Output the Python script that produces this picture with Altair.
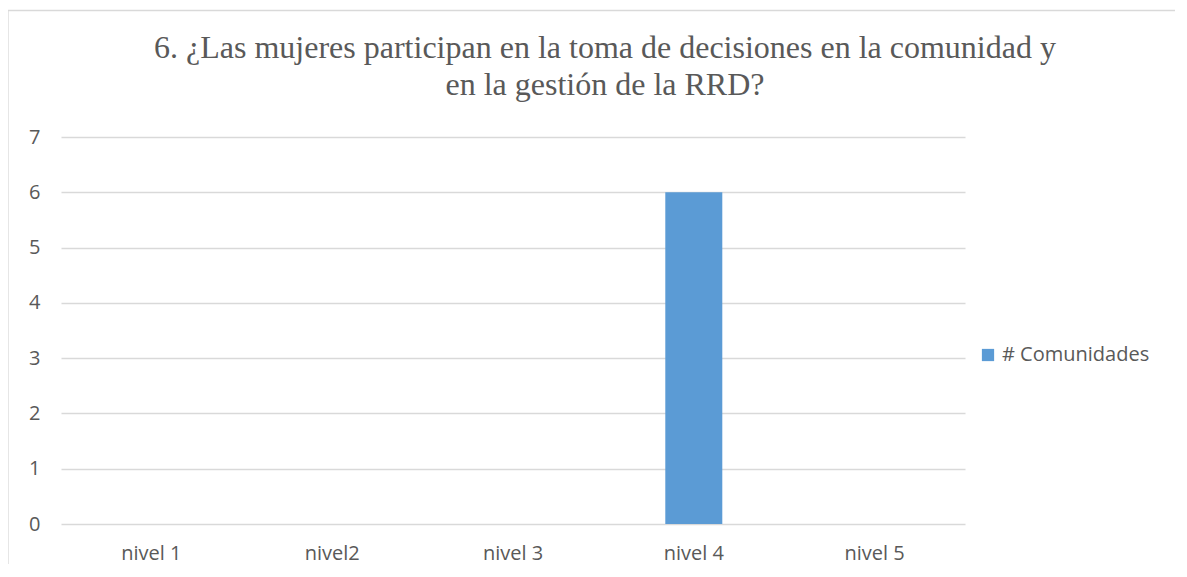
import altair as alt
import pandas as pd

categories = ["nivel 1", "nivel2", "nivel 3", "nivel 4", "nivel 5"]
values = [0, 0, 0, 6, 0]
series_name = "# Comunidades"
y_ticks = [0, 1, 2, 3, 4, 5, 6, 7]
title_lines = [
    "6. ¿Las mujeres participan en la toma de decisiones en la comunidad y",
    "en la gestión de la RRD?",
]

df = pd.DataFrame({"nivel": categories, "valor": values, "serie": [series_name] * len(categories)})

W, H = 904, 387
GRAY = "#595959"
LABEL_FONT = "Open Sans"

bars = alt.Chart(df).mark_bar(size=57).encode(
    x=alt.X(
        "nivel:N",
        sort=categories,
        scale=alt.Scale(paddingInner=0, paddingOuter=0),
        axis=alt.Axis(
            title=None, labelAngle=0, domain=False, ticks=False,
            labelFontSize=20, labelColor=GRAY, labelFont=LABEL_FONT, labelPadding=19,
        ),
    ),
    y=alt.Y(
        "valor:Q",
        scale=alt.Scale(domain=[0, 7], nice=False),
        axis=alt.Axis(
            title=None, values=y_ticks, grid=True, gridColor="#d9d9d9", gridWidth=1.3,
            domain=False, ticks=False, labelFontSize=20, labelColor=GRAY,
            labelFont=LABEL_FONT, labelPadding=21,
        ),
    ),
    color=alt.Color(
        "serie:N",
        scale=alt.Scale(range=["#5b9bd5"]),
        legend=alt.Legend(
            title=None, orient="none", legendX=917, legendY=208,
            symbolType="square", symbolSize=150, symbolStrokeWidth=0,
            labelFontSize=20, labelColor=GRAY, labelFont=LABEL_FONT, labelOffset=4,
        ),
    ),
)

border = alt.Chart(pd.DataFrame({"b": [0]})).mark_rect(
    fill="transparent", stroke="#d9d9d9", strokeWidth=1.3
).encode(
    x=alt.value(-53), x2=alt.value(1300), y=alt.value(-126.5), y2=alt.value(700)
)

title_style = dict(font="Liberation Serif", fontSize=32, color=GRAY, align="center", baseline="alphabetic")
title1 = alt.Chart(pd.DataFrame({"t": [title_lines[0]]})).mark_text(**title_style).encode(
    text="t:N", x=alt.value(544), y=alt.value(-79)
)
title2 = alt.Chart(pd.DataFrame({"t": [title_lines[1]]})).mark_text(**title_style).encode(
    text="t:N", x=alt.value(544), y=alt.value(-42)
)

chart = alt.layer(border, bars, title1, title2).properties(
    width=W,
    height=H,
    autosize=alt.AutoSizeParams(type="none"),
    padding={"left": 53, "top": 129, "right": 210, "bottom": 40},
).configure_view(stroke=None)

chart.save("out.html", embed_options={"renderer": "svg", "actions": False})
